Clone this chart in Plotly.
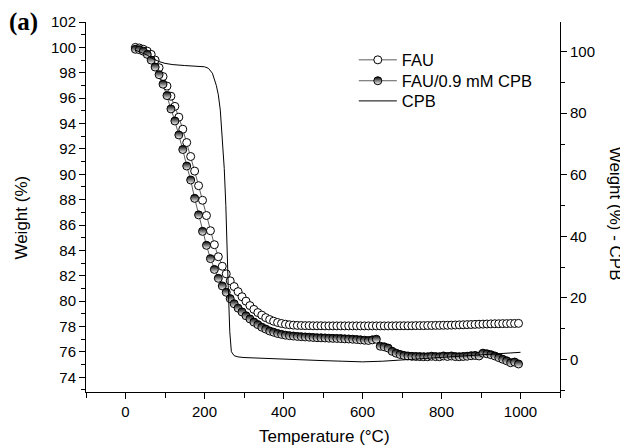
import plotly.graph_objects as go

# ---------------- data ----------------
temp_fau = [25, 35, 45, 55, 65, 75, 85, 95, 105, 115,
            125, 135, 145, 155, 165, 175, 185, 195, 205, 215,
            225, 235, 245, 255, 265, 275, 285, 295, 305, 315,
            325, 335, 345, 355, 365, 375, 385, 395, 405, 415,
            425, 435, 445, 455, 465, 475, 485, 495, 505, 515,
            525, 535, 545, 555, 565, 575, 585, 595, 605, 615,
            625, 635, 645, 655, 665, 675, 685, 695, 705, 715,
            725, 735, 745, 755, 765, 775, 785, 795, 805, 815,
            825, 835, 845, 855, 865, 875, 885, 895, 905, 915,
            925, 935, 945, 955, 965, 975, 985, 995]

weight_fau = [100.0, 99.95, 99.85, 99.7, 99.45, 99.0, 98.4, 97.7, 96.95, 96.15,
              95.35, 94.5, 93.55, 92.5, 91.4, 90.25, 89.1, 87.95, 86.75, 85.55,
              84.45, 83.5, 82.75, 82.15, 81.6, 81.15, 80.75, 80.35, 80.0, 79.65,
              79.35, 79.1, 78.9, 78.7, 78.55, 78.42, 78.32, 78.24, 78.18, 78.14,
              78.11, 78.09, 78.08, 78.07, 78.07, 78.06, 78.06, 78.06, 78.05, 78.05,
              78.05, 78.05, 78.05, 78.05, 78.05, 78.05, 78.05, 78.05, 78.05, 78.05,
              78.05, 78.05, 78.05, 78.05, 78.05, 78.05, 78.06, 78.06, 78.06, 78.06,
              78.06, 78.07, 78.07, 78.07, 78.08, 78.08, 78.09, 78.09, 78.1, 78.1,
              78.11, 78.12, 78.13, 78.14, 78.15, 78.16, 78.17, 78.18, 78.19, 78.2,
              78.21, 78.22, 78.22, 78.23, 78.23, 78.24, 78.24, 78.25]

weight_fau_cpb = [99.85, 99.82, 99.7, 99.45, 99.0, 98.45, 97.85, 97.1, 96.2, 95.15,
                  94.2, 93.1, 91.95, 90.65, 89.55, 88.1, 86.8, 85.5, 84.4, 83.35,
                  82.5, 81.8, 81.2, 80.7, 80.2, 79.8, 79.45, 79.15, 78.85, 78.6,
                  78.35, 78.15, 77.95, 77.8, 77.65, 77.55, 77.45, 77.38, 77.32, 77.28,
                  77.25, 77.22, 77.2, 77.18, 77.16, 77.14, 77.12, 77.11, 77.1, 77.08,
                  77.07, 77.06, 77.05, 77.03, 77.02, 77.0, 76.98, 76.95, 76.92, 76.9,
                  76.95, 77.0, 76.45, 76.4, 76.3, 76.05, 75.9, 75.8, 75.72, 75.68,
                  75.65, 75.64, 75.63, 75.62, 75.62, 75.66, 75.63, 75.62, 75.68, 75.64,
                  75.68, 75.63, 75.62, 75.64, 75.66, 75.7, 75.72, 75.68, 75.9, 75.85,
                  75.78, 75.68, 75.55, 75.42, 75.3, 75.15, 75.2, 75.05]

temp_cpb = [25, 40, 55, 70, 85, 100, 120, 150, 180, 200,
            210, 220, 230, 235, 240, 245, 250, 254, 257, 260,
            264, 268, 275, 285, 300, 350, 400, 450, 500, 550,
            600, 650, 700, 750, 800, 850, 900, 950, 1000]
weight_cpb = [100.5, 99.8, 98.9, 97.7, 96.8, 96.2, 95.8, 95.5, 95.3, 95.1,
              94.6, 93.0, 89.0, 86.0, 81.0, 71.0, 62.0, 50.0, 40.0, 24.0,
              9.0, 2.5, 1.2, 0.8, 0.6, 0.3, 0.0, -0.2, -0.4, -0.6,
              -0.8, -0.6, -0.2, 0.2, 0.5, 0.9, 1.4, 1.8, 2.3]

x_ticks = [0, 200, 400, 600, 800, 1000]

# ---------------- figure ----------------
FONT = "Liberation Sans, Arial, sans-serif"
fig = go.Figure()

fig.add_trace(go.Scatter(
    x=temp_fau, y=weight_fau, name="FAU", mode="lines+markers",
    line=dict(color="#333333", width=0.8),
    marker=dict(symbol="circle", size=8, color="white",
                line=dict(color="black", width=1)),
    legend="legend",
))
fig.add_trace(go.Scatter(
    x=temp_fau, y=weight_fau_cpb, name="FAU/0.9 mM CPB", mode="lines+markers",
    line=dict(color="#333333", width=0.8),
    marker=dict(symbol="circle", size=8, color="black",
                gradient=dict(type="vertical", color="white"),
                line=dict(color="black", width=1)),
    legend="legend2",
))
fig.add_trace(go.Scatter(
    x=temp_cpb, y=weight_cpb, name="CPB", mode="lines",
    line=dict(color="black", width=1), yaxis="y2",
    legend="legend3",
))

tickfont = dict(family=FONT, size=15, color="black")
legfont = dict(family=FONT, size=16.5, color="black")
titlefont = dict(family=FONT, size=17, color="black")
leg_common = dict(x=0.565, xanchor="left", yanchor="middle",
                  bgcolor="rgba(0,0,0,0)", borderwidth=0, font=legfont,
                  itemwidth=38)
# the page adds an 8 px body margin, so the figure is 8 px smaller each way
fig.update_layout(
    width=620, height=438,
    margin=dict(l=78, r=68, t=14, b=54, autoexpand=False),
    paper_bgcolor="white", plot_bgcolor="white",
    font=dict(family=FONT, color="black"),
    showlegend=True,
    legend=dict(y=0.897, **leg_common),
    legend2=dict(y=0.8405, **leg_common),
    legend3=dict(y=0.786, **leg_common),
    xaxis=dict(range=[-100, 1100], tickvals=x_ticks, ticks="outside", ticklen=6,
               tickwidth=1, tickcolor="black", showline=True, linecolor="black",
               linewidth=1, showgrid=False, zeroline=False, tickfont=tickfont,
               automargin=False,
               minor=dict(dtick=100, tick0=0, ticks="outside", ticklen=5,
                          tickcolor="black", showgrid=False)),
    xaxis2=dict(range=[-100, 1100], overlaying="x", side="top", anchor="y",
                tickvals=x_ticks, ticks="inside", ticklen=6, tickcolor="black",
                showline=True, linecolor="black", linewidth=1, automargin=False,
                showticklabels=False, showgrid=False, zeroline=False,
                minor=dict(dtick=100, tick0=0, ticks="inside", ticklen=4,
                           tickcolor="black", showgrid=False)),
    yaxis=dict(range=[72.84, 102], dtick=2, tick0=74, ticks="outside", ticklen=6,
               tickcolor="black", showline=True, linecolor="black", linewidth=1,
               showgrid=False, zeroline=False, tickfont=tickfont, automargin=False,
               minor=dict(dtick=1, tick0=74, ticks="outside", ticklen=4,
                          tickcolor="black", showgrid=False)),
    yaxis2=dict(range=[-10.6, 109.65], overlaying="y", side="right", anchor="x",
                dtick=20, tick0=0, ticks="outside", ticklen=6, tickcolor="black",
                showline=True, linecolor="black", linewidth=1, automargin=False,
                showgrid=False, zeroline=False, tickfont=tickfont,
                minor=dict(dtick=10, tick0=0, ticks="outside", ticklen=4,
                           tickcolor="black", showgrid=False)),
    annotations=[
        dict(text="Temperature (°C)", xref="paper", yref="paper",
             x=0.504, y=-0.119, xanchor="center", yanchor="middle",
             showarrow=False, font=titlefont),
        dict(text="Weight (%)", xref="paper", yref="paper",
             x=-0.137, y=0.4716, xanchor="center", yanchor="middle",
             textangle=-90, showarrow=False, font=titlefont),
        dict(text="Weight (%) - CPB", xref="paper", yref="paper",
             x=1.116, y=0.482, xanchor="center", yanchor="middle",
             textangle=90, showarrow=False, font=titlefont),
        dict(text="<b>(a)</b>", xref="paper", yref="paper",
             x=-0.1329, y=1.0, xanchor="center", yanchor="middle",
             showarrow=False,
             font=dict(family="Liberation Serif, Times New Roman, serif",
                       size=25, color="black")),
    ],
)

fig.write_html("out.html")
